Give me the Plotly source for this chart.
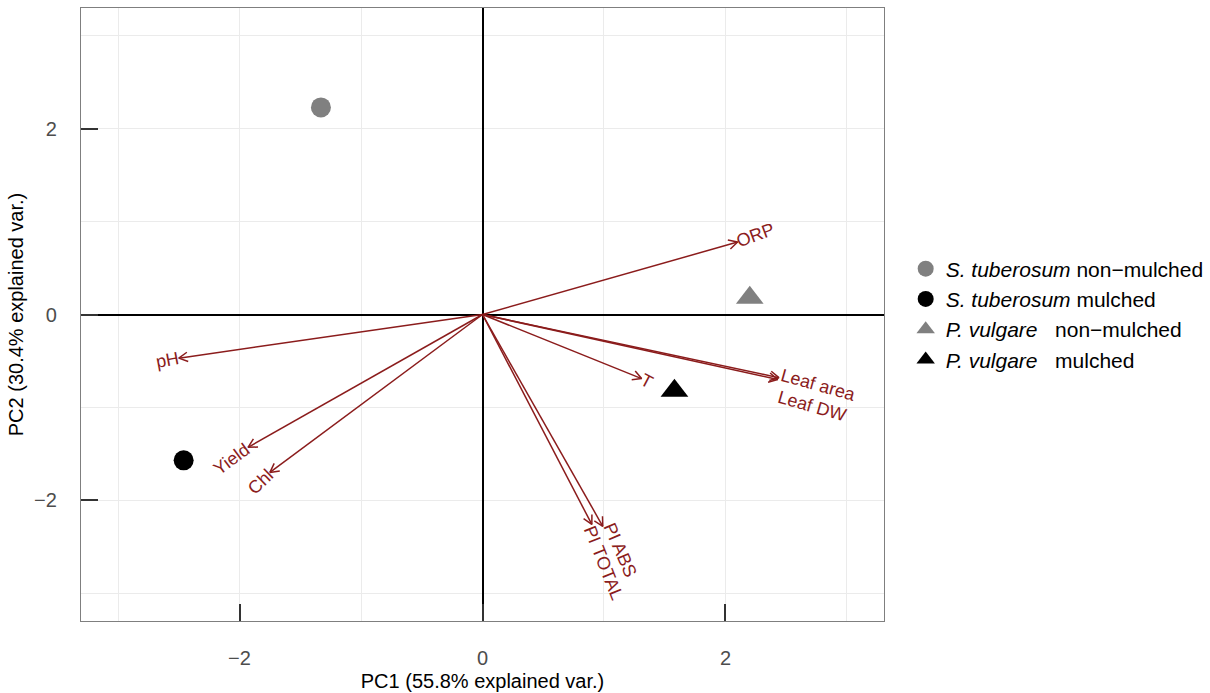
import math
import plotly.graph_objects as go

# ---------------- data ----------------
group_species = ["S. tuberosum", "S. tuberosum", "P. vulgare", "P. vulgare"]
group_treatment = ["non\u2212mulched", "mulched", "non\u2212mulched", "mulched"]
group_pc1 = [-1.33, -2.46, 2.20, 1.58]
group_pc2 = [2.23, -1.57, 0.18, -0.82]

var_names = ["ORP", "pH", "Yield", "Chl", "T", "Leaf area", "Leaf DW", "PI ABS", "PI TOTAL"]
var_pc1 = [2.10, -2.50, -1.93, -1.75, 1.31, 2.44, 2.43, 0.99, 0.90]
var_pc2 = [0.78, -0.47, -1.43, -1.70, -0.69, -0.68, -0.70, -2.28, -2.26]

x_tick_vals = [-2, 0, 2]
y_tick_vals = [-2, 0, 2]
x_minor_vals = [-3, -1, 1, 3]
y_minor_vals = [-3, -1, 1, 3]
x_title = "PC1 (55.8% explained var.)"
y_title = "PC2 (30.4% explained var.)"

# ---------------- style ----------------
W, H = 1210, 693
ML, MR, MT, MB = 81, 326, 8, 72
XR = [-3.305, 3.305]
YR = [-3.30, 3.30]
FONT = "Liberation Sans, Arial, sans-serif"
ARROW_COL = "#8b1c1c"
LABEL_SIZE = 18
group_colors = ["#808080", "#000000", "#808080", "#000000"]
group_symbols = ["circle", "circle", "triangle-up", "triangle-up"]
group_sizes = [20, 20, 24, 24]
# label nudges in px: (perpendicular, along text direction) -- style only
label_nudge = {"Leaf area": (4, 2), "Leaf DW": (-16, 5), "PI ABS": (6, 0), "PI TOTAL": (-3, 0)}

pw = W - ML - MR
ph = H - MT - MB
sx = pw / (XR[1] - XR[0])
sy = ph / (YR[1] - YR[0])

ARIAL = {" ": 278, "O": 778, "R": 722, "P": 667, "p": 556, "H": 722, "Y": 667,
         "i": 222, "e": 556, "l": 222, "d": 556, "C": 722, "h": 556, "T": 611,
         "L": 556, "a": 556, "f": 278, "r": 333, "D": 722, "W": 944, "I": 278,
         "A": 667, "B": 667, "S": 667}


def text_width(s, size):
    return sum(ARIAL.get(c, 556) for c in s) * size / 1000.0


fig = go.Figure()

# group score points
for sp, tr, x, y, c, sym, sz in zip(group_species, group_treatment, group_pc1, group_pc2,
                                     group_colors, group_symbols, group_sizes):
    sep = "\u00a0\u00a0 " if sp.startswith("P.") else " "
    fig.add_trace(go.Scatter(
        x=[x], y=[y], mode="markers",
        marker=dict(color=c, symbol=sym, size=sz, line=dict(width=0)),
        name=f"<i>{sp}</i>{sep}{tr}", showlegend=True, hoverinfo="skip"))

# variable arrows with open chevron heads
head_len = 10.0
head_ang = math.radians(28)
ax_x, ax_y = [], []
for vx, vy in zip(var_pc1, var_pc2):
    ax_x += [0, vx, None]
    ax_y += [0, vy, None]
    px, py = vx * sx, vy * sy
    L = math.hypot(px, py)
    ux, uy = px / L, py / L
    legs = []
    for s in (1, -1):
        ca, sa = math.cos(s * head_ang), math.sin(s * head_ang)
        rx, ry = ux * ca - uy * sa, ux * sa + uy * ca
        legs.append((vx - head_len * rx / sx, vy - head_len * ry / sy))
    ax_x += [legs[0][0], vx, legs[1][0], None]
    ax_y += [legs[0][1], vy, legs[1][1], None]

fig.add_trace(go.Scatter(x=ax_x, y=ax_y, mode="lines",
                         line=dict(color=ARROW_COL, width=1.5),
                         showlegend=False, hoverinfo="skip"))

# variable labels (ggbiplot-like: rotated by atan(y/x), starting at arrow tip)
annotations = []
for name, vx, vy in zip(var_names, var_pc1, var_pc2):
    th = math.atan(vy / vx)
    dx, dy = math.cos(th), math.sin(th)
    sgn = 1 if vx > 0 else -1
    w = text_width(name, LABEL_SIZE)
    perp, along = label_nudge.get(name, (0, 0))
    cxp = vx * sx + sgn * 0.5 * w * dx + perp * (-dy) + along * dx
    cyp = vy * sy + sgn * 0.5 * w * dy + perp * dx + along * dy
    annotations.append(dict(
        x=cxp / sx, y=cyp / sy, xref="x", yref="y", text=name, showarrow=False,
        textangle=-math.degrees(th), xanchor="center", yanchor="middle",
        font=dict(family=FONT, size=LABEL_SIZE, color=ARROW_COL)))

axis_common = dict(
    showgrid=True, gridcolor="#ebebeb", gridwidth=1,
    zeroline=True, zerolinecolor="#000000", zerolinewidth=1.6,
    showline=True, mirror=True, linecolor="#7f7f7f", linewidth=1.4,
    ticks="inside", ticklen=17, tickwidth=1.5, tickcolor="#333333",
    tickfont=dict(family=FONT, size=20, color="#4d4d4d"),
)

fig.update_layout(
    width=W, height=H,
    margin=dict(l=ML, r=MR, t=MT, b=MB, autoexpand=False),
    paper_bgcolor="white", plot_bgcolor="white",
    font=dict(family=FONT, color="#000000"),
    xaxis=dict(range=XR, tickvals=x_tick_vals, ticktext=[str(v).replace("-", "\u2212") for v in x_tick_vals],
               minor=dict(tickvals=x_minor_vals, showgrid=True, gridcolor="#ebebeb", gridwidth=1, ticks=""),
               title=dict(text=x_title, font=dict(family=FONT, size=20, color="#000000"), standoff=5),
               ticklabelstandoff=19, **axis_common),
    yaxis=dict(range=YR, tickvals=y_tick_vals, ticktext=[str(v).replace("-", "\u2212") for v in y_tick_vals],
               minor=dict(tickvals=y_minor_vals, showgrid=True, gridcolor="#ebebeb", gridwidth=1, ticks=""),
               title=dict(text=y_title, font=dict(family=FONT, size=20, color="#000000"), standoff=4),
               ticklabelstandoff=19, **axis_common),
    legend=dict(x=1.027, y=0.5, xanchor="left", yanchor="middle",
                font=dict(family=FONT, size=21, color="#000000"),
                bgcolor="rgba(0,0,0,0)", itemsizing="trace", tracegroupgap=0),
    annotations=annotations,
    showlegend=True,
)

fig.write_html("out.html", config={"displayModeBar": False},
               post_script="document.body.style.margin='0px';document.body.style.overflow='hidden';")
